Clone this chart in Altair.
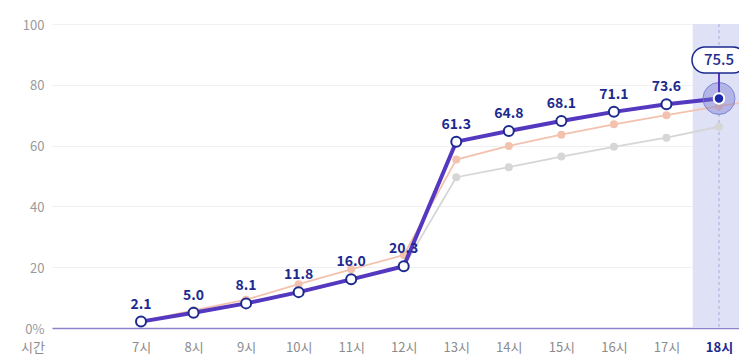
import altair as alt
import pandas as pd

# ---- data ----
hours = [7, 8, 9, 10, 11, 12, 13, 14, 15, 16, 17, 18]
main_vals = [2.1, 5.0, 8.1, 11.8, 16.0, 20.3, 61.3, 64.8, 68.1, 71.1, 73.6, 75.5]
orange_hours = [7, 8, 9, 10, 11, 12, 13, 14, 15, 16, 17, 18, 19]
orange_vals = [2.2, 5.8, 9.3, 14.4, 19.3, 24.0, 55.4, 59.9, 63.6, 67.0, 70.0, 73.0, 75.5]
gray_vals = [2.0, 4.9, 7.9, 11.6, 15.8, 20.1, 49.6, 52.9, 56.4, 59.6, 62.6, 66.2]
y_ticks = [0, 20, 40, 60, 80, 100]
highlight_hour = [18]
axis_title = ["시간"]

FONT = "Noto Sans CJK KR"
NAVY = "#1c2a8f"
PURPLE = "#5538c0"

main_df = pd.DataFrame({"hour": hours, "value": main_vals})
orange_df = pd.DataFrame({"hour": orange_hours, "value": orange_vals})
gray_df = pd.DataFrame({"hour": hours, "value": gray_vals})
hl_df = pd.DataFrame({"hour": highlight_hour, "lo": [h - 0.5 for h in highlight_hour],
                      "hi": [h + 0.5 for h in highlight_hour]})
hl_pt = main_df[main_df["hour"].isin(highlight_hour)].copy()
hl_pt["label"] = hl_pt["value"].map(lambda v: f"{v:.1f}")
main_df["label"] = main_df["value"].map(lambda v: f"{v:.1f}")
title_df = pd.DataFrame({"hour": [5], "value": [0], "t": axis_title})

xscale = alt.Scale(domain=[5.306, 18.381], nice=False, zero=False)
yscale = alt.Scale(domain=[0, 100], nice=False)

x_axis = alt.Axis(
    values=hours, labelExpr="datum.value + '시'", title=None, grid=False,
    ticks=False, domain=True, domainColor="#8a84cc", domainWidth=1.5,
    labelPadding=13, labelFontSize=13, labelFont=FONT,
    labelColor={"condition": {"test": "datum.value == 18", "value": NAVY}, "value": "#8c8c8c"},
    labelFontWeight={"condition": {"test": "datum.value == 18", "value": "bold"}, "value": "normal"},
)
y_axis = alt.Axis(
    values=y_ticks, labelExpr="datum.value == 0 ? '0%' : datum.value", title=None,
    grid=True, gridColor="#f0f0f3", ticks=False, domain=False, labelPadding=8,
    labelFontSize=13, labelFont=FONT, labelColor="#9a9a9a", labelOffset=1,
)

X = alt.X("hour:Q", scale=xscale, axis=x_axis)
Y = alt.Y("value:Q", scale=yscale, axis=y_axis)
Xn = alt.X("hour:Q", scale=xscale)
Yn = alt.Y("value:Q", scale=yscale)

band = alt.Chart(hl_df).mark_rect(color="#dfe1f6", clip=True).encode(
    x=alt.X("lo:Q", scale=xscale, axis=x_axis), x2="hi:Q")
dash = alt.Chart(hl_df).mark_rule(color="#a9a9d9", strokeDash=[3, 3], strokeWidth=1).encode(x=Xn)

gray_line = alt.Chart(gray_df).mark_line(color="#d6d6d6", strokeWidth=1.8, clip=True).encode(x=Xn, y=Y)
gray_pts = alt.Chart(gray_df).mark_point(filled=True, color="#d6d6d6", size=64, opacity=1, clip=True).encode(x=Xn, y=Yn)
orange_line = alt.Chart(orange_df).mark_line(color="#f3c2ae", strokeWidth=1.8, clip=True).encode(x=Xn, y=Yn)
orange_pts = alt.Chart(orange_df).mark_point(filled=True, color="#f3c2ae", size=64, opacity=1, clip=True).encode(x=Xn, y=Yn)

main_line = alt.Chart(main_df).mark_line(color=PURPLE, strokeWidth=4).encode(x=Xn, y=Yn)
main_pts = alt.Chart(main_df).transform_filter("datum.hour < 18").mark_point(
    filled=True, fill="white", stroke=NAVY, strokeWidth=2, size=100, opacity=1).encode(x=Xn, y=Yn)
labels = alt.Chart(main_df).transform_filter("datum.hour < 18").mark_text(
    font=FONT, fontSize=14, fontWeight="bold", color=NAVY, baseline="alphabetic", dy=-13).encode(
    x=Xn, y=Yn, text="label:N")

halo = alt.Chart(hl_pt).mark_point(filled=True, fill="#6d74d0", fillOpacity=0.4, stroke="#6d74d0",
                                    strokeWidth=1, strokeOpacity=0.8, size=1024).encode(x=Xn, y=Yn)
connector = alt.Chart(hl_pt).mark_tick(orient="vertical", color=PURPLE, thickness=2, size=26,
                                        yOffset=-13, opacity=1).encode(x=Xn, y=Yn)
dot = alt.Chart(hl_pt).mark_point(filled=True, fill="#1a2aa8", stroke="white", strokeWidth=2,
                                   size=110, opacity=1).encode(x=Xn, y=Yn)
box = alt.Chart(hl_pt).mark_rect(width=54, height=26, cornerRadius=13, fill="white", stroke=NAVY,
                                  strokeWidth=1.5, yOffset=-38.5).encode(x=Xn, y=Yn)
box_text = alt.Chart(hl_pt).mark_text(font=FONT, fontSize=15, fontWeight=500, color=NAVY,
                                       baseline="middle", dy=-38.5).encode(x=Xn, y=Yn, text="label:N")
title_txt = alt.Chart(title_df).mark_text(font=FONT, fontSize=13, color="#8c8c8c", baseline="top",
                                           dy=14, dx=-3).encode(x=Xn, y=Yn, text="t:N")

chart = alt.layer(
    band, dash, gray_line, gray_pts, orange_line, orange_pts, main_line, main_pts, labels,
    halo, connector, dot, box, box_text, title_txt,
).properties(
    width=687, height=304, autosize=alt.AutoSizeParams(type="none"),
    padding={"left": 44, "top": 16, "right": 0, "bottom": 28},
).configure_view(stroke=None)

chart.save("out.html", embed_options={"renderer": "svg", "actions": False})
